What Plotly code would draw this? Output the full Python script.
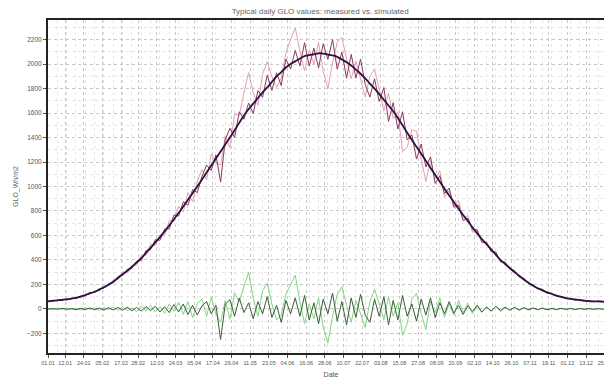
import pandas as pd
import plotly.graph_objects as go

# day offsets from 1 Jan (every 3 days)
start_date = "2001-01-01"
step_days = 3

simulated = [62, 66, 70, 73, 78, 84, 91, 100, 113, 127, 140, 158, 177, 197, 222, 253, 284, 311, 345, 379,
             414, 457, 500, 543, 586, 633, 683, 733, 783, 836, 891, 945, 1000, 1057, 1114, 1171, 1228, 1286, 1343, 1400,
             1460, 1520, 1580, 1631, 1677, 1723, 1769, 1809, 1855, 1899, 1935, 1972, 2000, 2022, 2044, 2065, 2073, 2080, 2088, 2086,
             2078, 2070, 2059, 2037, 2015, 1989, 1955, 1921, 1883, 1841, 1800, 1754, 1708, 1662, 1615, 1560, 1500, 1440, 1381, 1324,
             1267, 1210, 1152, 1095, 1038, 982, 927, 873, 818, 767, 717, 667, 617, 571, 529, 486, 443, 400, 367, 334,
             301, 271, 241, 214, 189, 169, 152, 135, 122, 109, 98, 89, 82, 77, 72, 68, 64, 62, 61, 60,
             59, 57]

measured_a = [65, 61, 76, 71, 86, 78, 95, 92, 123, 123, 147, 148, 189, 191, 237, 241, 304, 296, 355, 357,
              439, 439, 530, 518, 606, 598, 723, 713, 838, 791, 951, 875, 1045, 1137, 1054, 1266, 1188, 1176, 1413, 1315,
              1590, 1580, 1760, 1931, 1767, 1663, 1919, 2019, 1895, 1809, 1885, 2092, 2200, 2297, 2104, 1945, 2113, 2000, 2178, 1936,
              1798, 2010, 2179, 2217, 2045, 1879, 2025, 1881, 1733, 1901, 1960, 1794, 1618, 1762, 1555, 1610, 1285, 1320, 1461, 1454,
              1227, 1040, 1212, 1065, 1128, 912, 967, 823, 888, 737, 762, 627, 642, 541, 549, 471, 468, 380, 379, 324,
              316, 259, 249, 204, 195, 161, 162, 130, 128, 102, 102, 84, 88, 74, 76, 64, 67, 59, 65, 58,
              62, 55]

measured_b = [60, 70, 67, 78, 74, 87, 85, 105, 108, 135, 134, 165, 168, 207, 214, 265, 274, 325, 330, 391,
              396, 477, 485, 565, 561, 651, 653, 768, 758, 876, 846, 975, 950, 1082, 1174, 1131, 1258, 1036, 1383, 1475,
              1400, 1610, 1550, 1681, 1597, 1783, 1729, 1909, 1785, 1929, 1825, 2042, 1960, 2112, 1984, 2175, 1983, 2130, 1968, 2166,
              2038, 2200, 1959, 2097, 1885, 2079, 1885, 2041, 1833, 1731, 1880, 1694, 1808, 1532, 1685, 1470, 1610, 1380, 1421, 1224,
              1347, 1160, 1242, 1025, 1088, 942, 987, 838, 848, 722, 742, 647, 647, 546, 544, 468, 463, 388, 382, 324,
              313, 263, 251, 208, 197, 164, 158, 128, 126, 105, 103, 86, 86, 72, 75, 66, 67, 59, 63, 58,
              62, 56]

tick_labels = ["01.01", "12.01", "24.01", "05.02", "17.02", "28.02", "12.03", "24.03", "05.04", "17.04",
               "29.04", "11.05", "23.05", "04.06", "16.06", "28.06", "10.07", "22.07", "03.08", "15.08",
               "27.08", "08.09", "20.09", "02.10", "14.10", "26.10", "07.11", "19.11", "01.12", "13.12", "25.12"]

dates = pd.date_range(start_date, periods=len(simulated), freq=f"{step_days}D")
diff_a = [m - s for m, s in zip(measured_a, simulated)]
diff_b = [m - s for m, s in zip(measured_b, simulated)]
tick_vals = [pd.Timestamp(f"2001-{t[3:5]}-{t[0:2]}") for t in tick_labels]

fig = go.Figure()
fig.add_trace(go.Scatter(x=dates, y=diff_a, mode="lines", line=dict(color="#7fd87f", width=1), name="diff A"))
fig.add_trace(go.Scatter(x=dates, y=diff_b, mode="lines", line=dict(color="#3d5a3d", width=1), name="diff B"))
fig.add_trace(go.Scatter(x=dates, y=measured_a, mode="lines", line=dict(color="#e3a2b6", width=1), name="measured A"))
fig.add_trace(go.Scatter(x=dates, y=measured_b, mode="lines", line=dict(color="#8c3a5c", width=1), name="measured B"))
fig.add_trace(go.Scatter(x=dates, y=simulated, mode="lines", line=dict(color="#2b1240", width=1.8, shape="spline"),
                         name="simulated"))

fig.update_layout(
    width=612, height=386,
    margin=dict(l=40, r=4, t=12, b=41),
    paper_bgcolor="white", plot_bgcolor="white",
    showlegend=False,
    font=dict(family="Liberation Sans, Arial, sans-serif", size=7, color="#444"),
    title=dict(text="Typical daily GLO values: measured vs. simulated", x=0.51, xanchor="center",
               y=1.0, yanchor="top", yref="container", pad=dict(t=0),
               font=dict(size=8, color="#666")),
)
fig.update_xaxes(
    type="date", range=["2001-01-01", "2001-12-31"],
    tickmode="array", tickvals=tick_vals, ticktext=tick_labels, tickangle=0,
    ticks="outside", ticklen=3, tickcolor="#555", tickfont=dict(size=5.5, color="#555"),
    showgrid=True, gridcolor="#c8c8c8", griddash="dot", gridwidth=1,
    minor=dict(dtick=6 * 86400000, tick0="2001-01-07", showgrid=True, gridcolor="#e6e6e6", griddash="dot"),
    showline=True, linecolor="#222", linewidth=2, mirror=True, zeroline=False,
    title=dict(text="Date", font=dict(size=7, color="#555"), standoff=8),
)
fig.update_yaxes(
    range=[-360, 2360], tickmode="array",
    tickvals=[-200, 0, 200, 400, 600, 800, 1000, 1200, 1400, 1600, 1800, 2000, 2200],
    ticks="outside", ticklen=3, tickcolor="#555", tickfont=dict(size=6.5, color="#555"),
    showgrid=True, gridcolor="#c8c8c8", griddash="dot", gridwidth=1,
    minor=dict(dtick=100, showgrid=True, gridcolor="#e6e6e6", griddash="dot"),
    showline=True, linecolor="#222", linewidth=2, mirror=True, zeroline=False,
    title=dict(text="GLO_Wh/m2", font=dict(size=7, color="#666"), standoff=8),
)
fig.write_html("out.html")
